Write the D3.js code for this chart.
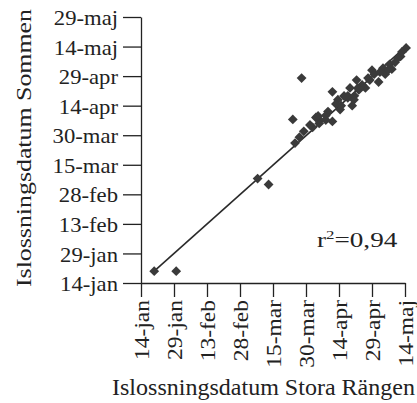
<!DOCTYPE html>
<html><head><meta charset="utf-8">
<script src="https://cdn.jsdelivr.net/npm/d3@7"></script>
<style>body{margin:0;background:#fff}svg{display:block}text{font-family:"Liberation Serif","Times New Roman",serif;fill:#222}</style>
</head><body><svg id="c" width="417" height="403"></svg>
<script>
// Day-of-year values (non-leap year), Stora Rängen (x) vs Sommen (y)
const xDays = [20,30,67,72,83,87,84,88,95,99,101,101,105,108,110,112,119,122,127,132,134.5,108,116,124,95,103.5,113,118,125,129.5,92,98,111,114.5,120,104.5,86,93.5,128,109,90.8,94.5,102.6,106.3,112.6,117.2,122.6,126.3,130.8,132.6,98,110.8];
const yDays = [20,20,67,64,97,118,85,91,95,101,96,111,104,108,104,117,122,116,125,129,133.3,109,113,123,97,107,112,117,120,126,93,99,109,114.5,120,102,88,98,122.5,113,94.2,98.8,104.9,108.9,113,118,121,122.1,128.2,131.3,96.7,107];
const tickDays = [14,29,44,59,74,89,104,119,134,149];
const tickLabels = ["14-jan","29-jan","13-feb","28-feb","15-mar","30-mar","14-apr","29-apr","14-maj","29-maj"];
const fitX = [20.5, 134];
const fitY = [20.5, 133.6];
const r2Label = "0,94";

const svg = d3.select("#c");
const x = d3.scaleLinear().domain([14,134]).range([141,405]);
const y = d3.scaleLinear().domain([14,149]).range([283,17]);
const lab = d => tickLabels[tickDays.indexOf(d)];
const TS = 1.08; // glyph stretch of the scanned type

const gy = svg.append("g").attr("transform","translate(141,0)")
  .call(d3.axisLeft(y).tickValues(tickDays).tickFormat(lab).tickSize(18).tickSizeOuter(0));
gy.selectAll("text").style("font-size","21px").attr("dy","0.36em")
  .attr("x",-23/TS).attr("transform",`scale(${TS},1)`);

const gx = svg.append("g").attr("transform","translate(0,283)")
  .call(d3.axisBottom(x).tickValues(tickDays.slice(0,9)).tickFormat(lab).tickSize(14).tickSizeOuter(0));
gx.selectAll("text").style("font-size","21px")
  .attr("transform",`rotate(-90) scale(${TS+0.04},1)`).attr("text-anchor","end")
  .attr("x",-17/(TS+0.04)).attr("y",0).attr("dy","0.36em");
svg.selectAll(".domain, .tick line").attr("stroke","#222").attr("stroke-width",1.3);

svg.append("line")
  .attr("x1",x(fitX[0])).attr("y1",y(fitY[0]))
  .attr("x2",x(fitX[1])).attr("y2",y(fitY[1]))
  .attr("stroke","#2a2a2a").attr("stroke-width",1.6);

const sym = d3.symbol().type(d3.symbolSquare).size(48);
svg.append("g").selectAll("path").data(xDays).join("path")
  .attr("d",sym)
  .attr("transform",(d,i)=>`translate(${x(d)},${y(yDays[i])}) rotate(45)`)
  .attr("fill","#3a3a3a");

const t = svg.append("text").style("font-size","21px");
t.append("tspan").text("r");
t.append("tspan").text("2").attr("dy","-8").style("font-size","13px");
t.append("tspan").text("=" + r2Label).attr("dy","8");
const tw = t.node().getBBox().width;
t.attr("transform",`translate(317,247) scale(${81/tw},1)`);

svg.append("text").attr("x",112).attr("y",395)
  .attr("textLength",303).attr("lengthAdjust","spacingAndGlyphs")
  .style("font-size","23px").text("Islossningsdatum Stora Rängen");
svg.append("text").attr("transform","translate(31,287) rotate(-90)")
  .attr("textLength",278).attr("lengthAdjust","spacingAndGlyphs")
  .style("font-size","22px").text("Islossningsdatum Sommen");
</script></body></html>
